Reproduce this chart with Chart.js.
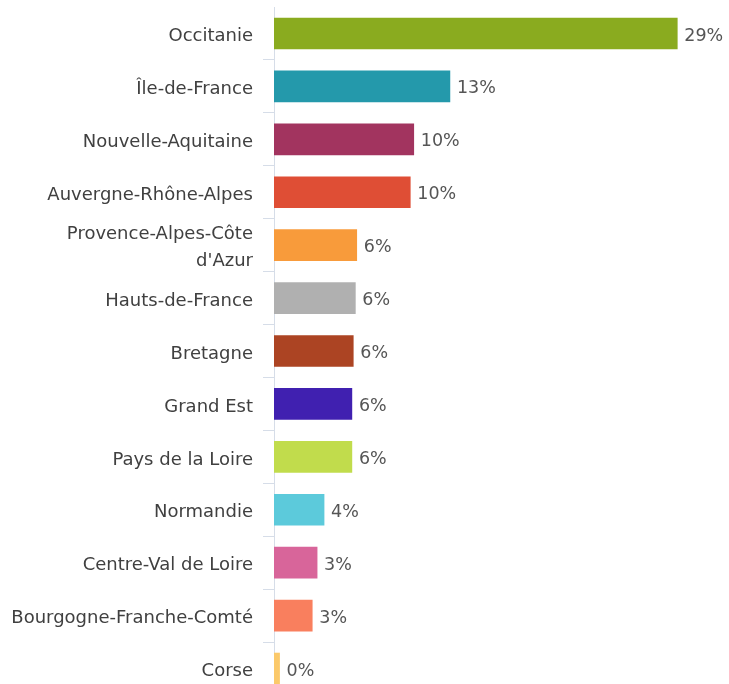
<!DOCTYPE html>
<html>
<head>
<meta charset="utf-8">
<script src="https://cdn.jsdelivr.net/npm/chart.js@4"></script>
<style>
  html, body { margin: 0; padding: 0; background: #fff; overflow: hidden; }
  #wrap { position: relative; width: 729px; height: 700px; }
</style>
</head>
<body>
<div id="wrap"><canvas id="chart"></canvas></div>
<script>
// Regions and their share (%)
const regions = [
    'Occitanie', 'Île-de-France', 'Nouvelle-Aquitaine', 'Auvergne-Rhône-Alpes',
    ['Provence-Alpes-Côte', "d'Azur"], 'Hauts-de-France', 'Bretagne', 'Grand Est',
    'Pays de la Loire', 'Normandie', 'Centre-Val de Loire', 'Bourgogne-Franche-Comté', 'Corse'
];
const shares = [29.0, 12.65, 10.05, 9.8, 5.95, 5.85, 5.7, 5.6, 5.6, 3.6, 3.1, 2.75, 0.4];
const barColors = [
    '#8aab1f', '#2499ab', '#a2345f', '#df4e35', '#f89b3b', '#b0b0b0', '#ac4423',
    '#4020b0', '#c1dc4c', '#5ccadb', '#d8659a', '#f97f5e', '#fbc96a'
];

const FONT = '"DejaVu Sans", sans-serif';

// value labels at end of bars
const endLabels = {
    id: 'endLabels',
    afterDatasetsDraw(chart) {
        const ctx = chart.ctx;
        const meta = chart.getDatasetMeta(0);
        ctx.save();
        ctx.font = '17.5px ' + FONT;
        ctx.fillStyle = '#555';
        ctx.textBaseline = 'middle';
        ctx.textAlign = 'left';
        meta.data.forEach((bar, i) => {
            ctx.fillText(Math.round(shares[i]) + '%', bar.x + 7, bar.y + 2.5);
        });
        ctx.restore();
    }
};

new Chart(document.getElementById('chart'), {
    type: 'bar',
    data: {
        labels: regions,
        datasets: [{
            data: shares,
            backgroundColor: barColors,
            borderWidth: 0,
            barThickness: 31
        }]
    },
    options: {
        indexAxis: 'y',
        responsive: true,
        maintainAspectRatio: false,
        animation: false,
        layout: { padding: { top: 7, bottom: 5, left: 0, right: 10 } },
        plugins: { legend: { display: false }, tooltip: { enabled: false } },
        scales: {
            x: { display: false, min: 0, max: 32 },
            y: {
                afterFit: (s) => {
                    s.width = 274;
                    s.paddingTop = 0;
                    s.paddingBottom = 0;
                },
                border: { color: '#d6dde8', width: 1 },
                grid: {
                    offset: true,
                    drawOnChartArea: false,
                    tickLength: 11,
                    color: (c) => c.index === 0 ? 'rgba(0,0,0,0)' : '#d6dde8'
                },
                ticks: {
                    autoSkip: false,
                    color: '#404040',
                    padding: 10,
                    labelOffset: 3,
                    font: { family: FONT, size: 18, lineHeight: 1.5 }
                }
            }
        }
    },
    plugins: [endLabels]
});
</script>
</body>
</html>
